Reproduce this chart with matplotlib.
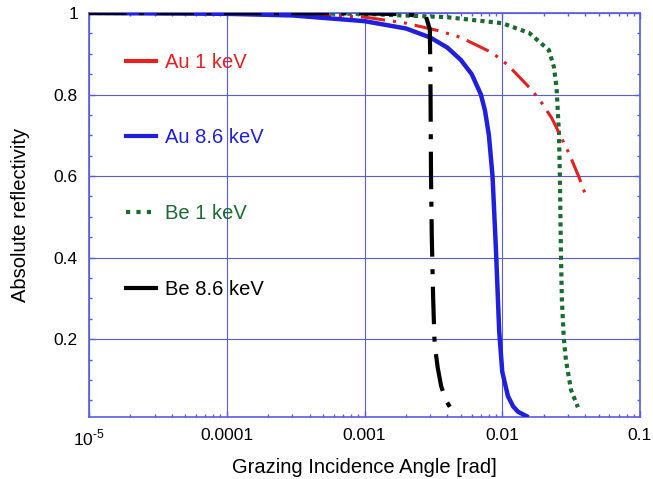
import numpy as np
import matplotlib
matplotlib.use("Agg")
import matplotlib.pyplot as plt
from matplotlib.lines import Line2D
from matplotlib.ticker import FixedLocator, FuncFormatter, MultipleLocator, LogLocator

# values
au1_x = [1e-5, 1e-4, 3e-4, 0.001, 0.002, 0.0035, 0.005, 0.0085, 0.011, 0.0133,
         0.0164, 0.0194, 0.0229, 0.0267, 0.0305, 0.036, 0.04]
au1_y = [1.0, 0.999, 0.997, 0.99, 0.975, 0.956, 0.94, 0.902, 0.872, 0.843,
         0.811, 0.779, 0.742, 0.696, 0.656, 0.598, 0.556]

au86_x = [1e-5, 1e-4, 3e-4, 0.001, 0.002, 0.003, 0.004, 0.005, 0.006, 0.007,
          0.0075, 0.008, 0.0085, 0.009, 0.0095, 0.010, 0.011, 0.012, 0.013, 0.015]
au86_y = [1.0, 0.998, 0.994, 0.98, 0.962, 0.94, 0.915, 0.885, 0.85, 0.80,
          0.76, 0.70, 0.60, 0.42, 0.22, 0.12, 0.06, 0.035, 0.022, 0.011]

be1_x = [1e-5, 1e-4, 0.001, 0.0016, 0.0039, 0.01, 0.0157, 0.0218, 0.0237, 0.0248,
         0.0258, 0.0262, 0.0267, 0.0271, 0.028, 0.029, 0.0316, 0.0354]
be1_y = [1.0, 1.0, 0.998, 0.995, 0.99, 0.975, 0.951, 0.909, 0.868, 0.816,
         0.705, 0.6, 0.4, 0.296, 0.2, 0.148, 0.075, 0.033]

be86_x = [1e-5, 1e-4, 0.001, 0.002, 0.0028, 0.00298, 0.00301, 0.00304, 0.00308,
          0.00315, 0.00322, 0.00328, 0.0034, 0.0036, 0.0039, 0.0043]
be86_y = [1.0, 1.0, 0.999, 0.997, 0.99, 0.96, 0.85, 0.6, 0.45,
          0.3, 0.2, 0.17, 0.13, 0.085, 0.05, 0.026]

labels = ["Au 1 keV", "Au 8.6 keV", "Be 1 keV", "Be 8.6 keV"]
colors = ["#e51f1f", "#1f1fdc", "#1a6b30", "#000000"]
xticks = [1e-5, 1e-4, 1e-3, 1e-2, 1e-1]
xticklabels = ["10$^{\\text{-5}}$", "0.0001", "0.001", "0.01", "0.1"]
yticks = [0.2, 0.4, 0.6, 0.8, 1.0]

plt.rcParams['font.family'] = ['Liberation Sans', 'DejaVu Sans']
plt.rcParams['mathtext.fontset'] = 'custom'
plt.rcParams['mathtext.rm'] = 'Liberation Sans'
plt.rcParams['mathtext.sf'] = 'Liberation Sans'
plt.rcParams['axes.unicode_minus'] = False

axcol = "#5a5ae6"

fig = plt.figure(figsize=(6.53, 4.79), dpi=100)
ax = fig.add_axes([89/653, 1-417/479, (640-89)/653, (417-13)/479])

ax.plot(be1_x, be1_y, color=colors[2], lw=3, dashes=(1, 1), zorder=3)
ax.plot(au1_x, au1_y, color=colors[0], lw=2.2, dashes=(8, 2.6, 1, 2.6, 1, 2.6), zorder=4)
ax.plot(au86_x, au86_y, color=colors[1], lw=3.2, zorder=5)
ax.plot(be86_x, be86_y, color=colors[3], lw=3, dashes=(9, 3, 1.2, 3), zorder=6)

ax.set_xscale('log')
ax.set_xlim(1e-5, 0.1)
ax.set_ylim(0.009, 1.0)

ax.xaxis.set_major_locator(FixedLocator(xticks))
ax.xaxis.set_major_formatter(FuncFormatter(lambda v, p: xticklabels[xticks.index(v)] if v in xticks else ""))
ax.xaxis.set_minor_locator(LogLocator(base=10, subs=np.arange(2, 10)))
ax.xaxis.set_minor_formatter(FuncFormatter(lambda v, p: ""))
ax.yaxis.set_major_locator(FixedLocator(yticks))
ax.yaxis.set_major_formatter(FuncFormatter(lambda v, p: "%g" % v))
ax.yaxis.set_minor_locator(MultipleLocator(0.05))

ax.grid(True, which='major', color=axcol, lw=0.8)
for s in ax.spines.values():
    s.set_color(axcol)
    s.set_linewidth(1.2)
ax.tick_params(which='both', direction='in', top=True, right=True, color=axcol, labelsize=12.5, pad=8)
ax.tick_params(which='major', length=4, width=1)
ax.tick_params(which='minor', length=2.5, width=1)

ax.set_xlabel("Grazing Incidence Angle [rad]", fontsize=14.5, labelpad=7)
ax.set_ylabel("Absolute reflectivity", fontsize=14.5, labelpad=17)

handles = [
    Line2D([], [], color=colors[0], lw=3),
    Line2D([], [], color=colors[1], lw=3),
    Line2D([], [], color=colors[2], lw=3, dashes=(1, 1.5)),
    Line2D([], [], color=colors[3], lw=3),
]
ax.legend(handles, labels, loc='upper left', bbox_to_anchor=(0.068, 0.902),
          frameon=False, fontsize=14.5, labelcolor=colors, handlelength=1.45,
          handletextpad=0.45, labelspacing=2.82, borderpad=0, borderaxespad=0)

fig.savefig("out.png", dpi=100)
